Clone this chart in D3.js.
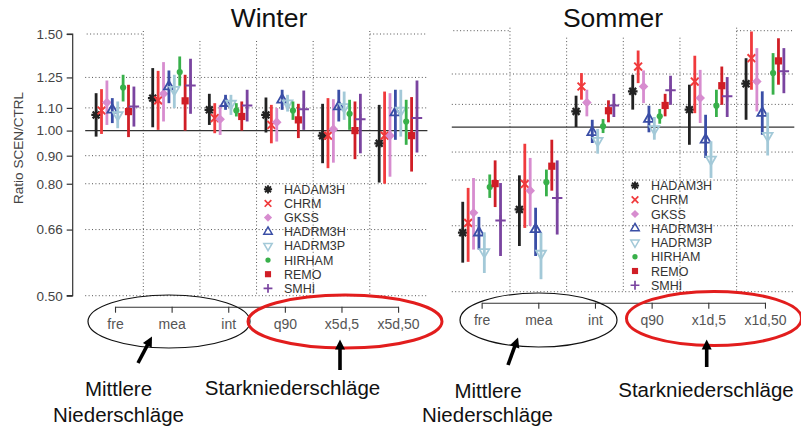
<!DOCTYPE html>
<html><head><meta charset="utf-8">
<script src="https://cdn.jsdelivr.net/npm/d3@7"></script>
<style>body{margin:0;background:#fff}svg{display:block;font-family:"Liberation Sans",Arial,Helvetica,sans-serif}</style>
</head><body><svg id="c" width="801" height="430"></svg>
<script>
// ---------- DATA ----------
const models = ["HADAM3H","CHRM","GKSS","HADRM3H","HADRM3P","HIRHAM","REMO","SMHI"];
const winterCats = ["fre","mea","int","q90","x5d,5","x5d,50"];
const summerCats = ["fre","mea","int","q90","x1d,5","x1d,50"];
const yTickValues = [0.5,0.66,0.8,0.9,1.0,1.1,1.25,1.5];
const yTickLabels = ["0.50","0.66","0.80","0.90","1.00","1.10","1.25","1.50"];

// rows = categories, columns = models (order as in `models`)
const winterMid = [
  [1.068,1.088,1.125,1.091,1.068,1.198,1.083,1.106],
  [1.146,1.135,1.167,1.203,1.187,1.279,1.133,1.208],
  [1.091,1.054,1.049,1.122,1.120,1.088,1.061,1.111],
  [1.068,1.024,1.036,1.138,1.122,1.088,1.046,1.094],
  [0.979,0.979,1.006,1.106,1.104,1.073,1.000,1.049],
  [0.948,0.979,0.979,1.079,1.088,1.039,0.979,1.054]];
const winterLo = [
  [0.975,0.986,1.024,1.032,1.010,1.130,0.973,1.017],
  [1.014,1.003,1.039,1.122,1.099,1.207,1.000,1.073],
  [1.024,0.989,0.982,1.091,1.068,1.061,1.000,1.039],
  [0.992,0.948,0.955,1.091,1.083,1.046,0.969,1.003],
  [0.872,0.854,0.874,1.039,1.046,1.003,0.887,0.909],
  [0.804,0.800,0.824,0.962,0.975,0.942,0.842,0.912]];
const winterHi = [
  [1.170,1.190,1.234,1.146,1.130,1.264,1.212,1.203],
  [1.300,1.285,1.333,1.287,1.264,1.365,1.264,1.352],
  [1.167,1.122,1.114,1.162,1.162,1.122,1.130,1.187],
  [1.149,1.114,1.099,1.187,1.162,1.130,1.119,1.183],
  [1.119,1.146,1.141,1.187,1.178,1.138,1.130,1.167],
  [1.114,1.178,1.170,1.187,1.187,1.138,1.151,1.234]];

const summerMid = [
  [0.641,0.668,0.697,0.641,0.591,0.777,0.788,0.675],
  [0.707,0.787,0.765,0.650,0.587,0.793,0.848,0.742],
  [1.068,1.186,1.109,0.978,0.944,1.003,1.071,1.095],
  [1.162,1.290,1.186,1.034,0.992,1.046,1.095,1.167],
  [1.076,1.211,1.130,0.948,0.872,1.094,1.190,1.138],
  [1.200,1.336,1.211,1.061,0.964,1.255,1.321,1.264]];
const summerLo = [
  [0.565,0.567,0.597,0.597,0.541,0.742,0.714,0.581],
  [0.606,0.654,0.659,0.581,0.527,0.747,0.765,0.636],
  [1.000,1.122,1.046,0.935,0.894,0.975,1.020,1.043],
  [1.076,1.203,1.106,0.978,0.948,1.014,1.046,1.098],
  [0.928,1.060,1.017,0.878,0.807,1.043,1.098,1.043],
  [1.031,1.170,1.068,0.968,0.887,1.146,1.195,1.153]];
const summerHi = [
  [0.730,0.774,0.807,0.685,0.642,0.819,0.869,0.790],
  [0.816,0.932,0.878,0.712,0.641,0.836,0.948,0.869],
  [1.141,1.255,1.170,1.031,0.992,1.034,1.119,1.150],
  [1.246,1.380,1.269,1.094,1.043,1.079,1.150,1.241],
  [1.195,1.350,1.272,1.053,0.942,1.170,1.290,1.234],
  [1.336,1.495,1.394,1.162,1.063,1.365,1.453,1.394]];

// ---------- STYLES ----------
const modelStyle = {
  HADAM3H:{color:"#222222", sym:"asterisk"},
  CHRM:   {color:"#f03a3c", sym:"cross"},
  GKSS:   {color:"#d78ccf", sym:"diamond"},
  HADRM3H:{color:"#3a4ea6", sym:"triUp"},
  HADRM3P:{color:"#a3c9d8", sym:"triDown"},
  HIRHAM: {color:"#38b04a", sym:"circle"},
  REMO:   {color:"#d01e26", sym:"square"},
  SMHI:   {color:"#7a44a0", sym:"plus"}
};

function drawSymbol(g, type, color, k) {
  k = k || 1;
  const s = g.append("path");
  if (type === "asterisk") {
    const r = 4.8*k, d = r*0.72;
    s.attr("d", `M${-r},0H${r}M0,${-r}V${r}M${-d},${-d}L${d},${d}M${-d},${d}L${d},${-d}`)
     .attr("stroke", color).attr("stroke-width", 2.2*k).attr("fill","none");
  } else if (type === "cross") {
    const d = 3.9*k;
    s.attr("d", `M${-d},${-d}L${d},${d}M${-d},${d}L${d},${-d}`)
     .attr("stroke", color).attr("stroke-width", 2*k).attr("fill","none");
  } else if (type === "plus") {
    const r = 5.2*k;
    s.attr("d", `M${-r},0H${r}M0,${-r}V${r}`)
     .attr("stroke", color).attr("stroke-width", 2*k).attr("fill","none");
  } else if (type === "diamond") {
    s.attr("d", d3.symbol(d3.symbolSquare, 46*k*k)()).attr("transform","rotate(45)")
     .attr("fill", color);
  } else if (type === "triUp") {
    s.attr("d", d3.symbol(d3.symbolTriangle, 42*k*k)())
     .attr("fill","none").attr("stroke", color).attr("stroke-width", 1.8*k);
  } else if (type === "triDown") {
    s.attr("d", d3.symbol(d3.symbolTriangle, 42*k*k)()).attr("transform","rotate(180)")
     .attr("fill","none").attr("stroke", color).attr("stroke-width", 1.8*k);
  } else if (type === "circle") {
    s.attr("d", d3.symbol(d3.symbolCircle, 30*k*k)()).attr("fill", color);
  } else if (type === "square") {
    s.attr("d", d3.symbol(d3.symbolSquare, 52*k*k)()).attr("fill", color);
  }
  return s;
}

const svg = d3.select("#c");
const gridColor = "#555";

const panels = [
  {title:"Winter", titleX:269, cats:winterCats, mid:winterMid, lo:winterLo, hi:winterHi,
   xRange:[86.7,426.4], yRange:[295.7,34], axis:true, legendX:268, legendY:189.3, legendStep:14.15},
  {title:"Sommer", titleX:613, cats:summerCats, mid:summerMid, lo:summerLo, hi:summerHi,
   xRange:[453.3,793.3], yRange:[291.7,30.7], axis:false, legendX:635, legendY:185.5, legendStep:14.25}
];

panels.forEach(p => {
  const y = d3.scaleLog().domain([0.5,1.5]).range(p.yRange);
  const xb = d3.scaleBand().domain(p.cats).range(p.xRange);
  const xm = d3.scaleBand().domain(models).range([-21.6, 21.6]);
  const g = svg.append("g");
  const x0 = p.xRange[0] - 1.5, x1 = p.xRange[1];
  const bw = xb.bandwidth();

  svg.append("text").attr("x", p.titleX).attr("y", 27).attr("text-anchor","middle")
    .attr("font-size", 26.5).attr("fill","#111").text(p.title);

  yTickValues.forEach(v => {
    if (v === 1.0) return;
    if (v === 1.5) {
      [p.cats[0], p.cats[p.cats.length-1]].forEach(c => {
        g.append("line").attr("x1", xb(c)).attr("x2", xb(c)+bw)
          .attr("y1", y(v)).attr("y2", y(v))
          .attr("stroke", gridColor).attr("stroke-width",1).attr("stroke-dasharray","1,2.4");
      });
      return;
    }
    g.append("line").attr("x1", x0).attr("x2", x1).attr("y1", y(v)).attr("y2", y(v))
      .attr("stroke", gridColor).attr("stroke-width",1).attr("stroke-dasharray","1,2.4");
  });
  p.cats.slice(1).forEach((c, i) => {
    const xx = xb(c);
    const top = (i === 0 || i === p.cats.length-2) ? y(1.5) - 3 : y(1.5) + 7;
    g.append("line").attr("x1", xx).attr("x2", xx).attr("y1", top).attr("y2", y(0.5))
      .attr("stroke", gridColor).attr("stroke-width",1).attr("stroke-dasharray","1,2.4");
  });
  g.append("line").attr("x1", x0).attr("x2", x1 + 1).attr("y1", y(1)).attr("y2", y(1))
    .attr("stroke", "#333").attr("stroke-width", 1.2);

  if (p.axis) {
    const axisX = 72.7;
    const ax = svg.append("g").attr("transform", `translate(${axisX},0)`)
      .call(d3.axisLeft(y).tickValues(yTickValues).tickFormat((d,i) => yTickLabels[i]).tickSize(6).tickPadding(4));
    ax.select(".domain").attr("stroke","#333").attr("stroke-width",1.2)
      .attr("d", `M-6,${y(0.5)}H0V${y(1.5)}H-6`);
    ax.selectAll(".tick line").attr("stroke","#333").attr("stroke-width",1.2);
    ax.selectAll(".tick text").attr("font-size", 13.5).attr("fill","#444")
      .attr("font-family",'"Liberation Sans",Arial,sans-serif');
    svg.append("text").attr("transform", `translate(23,148) rotate(-90)`)
      .attr("text-anchor","middle").attr("font-size", 13.5).attr("fill","#444")
      .text("Ratio SCEN/CTRL");
  }

  const xc = d3.scalePoint().domain(p.cats).range([xb(p.cats[0]) + bw/2, xb(p.cats[5]) + bw/2]);
  const xa = svg.append("g").attr("transform", `translate(0,${y(0.5)+11})`)
    .call(d3.axisBottom(xc).tickSize(6).tickPadding(6).tickSizeOuter(0));
  xa.select(".domain").attr("stroke","#333").attr("stroke-width",1.1);
  xa.selectAll(".tick line").attr("stroke","#333").attr("stroke-width",1.1);
  xa.selectAll(".tick text").attr("font-size", 14).attr("fill","#555")
    .attr("font-family",'"Liberation Sans",Arial,sans-serif');

  p.cats.forEach((c, ci) => {
    models.forEach((m, mi) => {
      const st = modelStyle[m];
      const cx = xb(c) + bw/2 + xm(m) + xm.bandwidth()/2;
      g.append("line").attr("x1", cx).attr("x2", cx)
        .attr("y1", y(p.lo[ci][mi])).attr("y2", y(p.hi[ci][mi]))
        .attr("stroke", st.color).attr("stroke-width", 2.8);
      const sg = g.append("g").attr("transform", `translate(${cx},${y(p.mid[ci][mi])})`);
      drawSymbol(sg, st.sym, st.color, 1);
    });
  });

  const lg = svg.append("g");
  models.forEach((m, i) => {
    const st = modelStyle[m];
    const yy = p.legendY + i * p.legendStep;
    const sg = lg.append("g").attr("transform", `translate(${p.legendX},${yy})`);
    drawSymbol(sg, st.sym, st.color, 0.85);
    lg.append("text").attr("x", p.legendX + 16).attr("y", yy + 4.5)
      .attr("font-size", 12.5).attr("fill","#333").text(m);
  });
});

// ---------- ANNOTATIONS ----------
const ann = svg.append("g");
const ellipses = [
  {cx:169, cy:321.5, rx:81, ry:26.5, color:"#111", w:1.2},
  {cx:345, cy:321.5, rx:97, ry:26.5, color:"#e21d1d", w:3},
  {cx:538.5, cy:320, rx:78.5, ry:27, color:"#111", w:1.2},
  {cx:714, cy:318.5, rx:87.5, ry:27, color:"#e21d1d", w:3}
];
ellipses.forEach(e => ann.append("ellipse").attr("cx",e.cx).attr("cy",e.cy).attr("rx",e.rx).attr("ry",e.ry)
  .attr("fill","none").attr("stroke",e.color).attr("stroke-width",e.w));

function arrow(xs, ys, xt, yt) {
  const dx = xt - xs, dy = yt - ys, L = Math.hypot(dx, dy);
  const ux = dx / L, uy = dy / L, hl = 10, hw = 5;
  const bx = xt - ux*hl, by = yt - uy*hl;
  ann.append("line").attr("x1", xs).attr("y1", ys).attr("x2", bx + ux).attr("y2", by + uy)
    .attr("stroke","#000").attr("stroke-width",3.6);
  ann.append("path").attr("d", `M${xt},${yt}L${bx - uy*hw},${by + ux*hw}L${bx + uy*hw},${by - ux*hw}Z`)
    .attr("fill","#000");
}
arrow(138, 363, 152, 336.5);
arrow(340, 370, 340, 339.5);
arrow(508, 365, 518, 337.5);
arrow(706.7, 367, 706.7, 339.5);

const labels = [
  {x:118.5, y:396, t:"Mittlere"},
  {x:118.5, y:421.5, t:"Niederschläge"},
  {x:292.5, y:395, t:"Starkniederschläge"},
  {x:488, y:398, t:"Mittlere"},
  {x:487.5, y:421.5, t:"Niederschläge"},
  {x:706, y:397, t:"Starkniederschläge"}
];
labels.forEach(l => ann.append("text").attr("x", l.x).attr("y", l.y).attr("text-anchor","middle")
  .attr("font-size", 20.5).attr("fill","#111").text(l.t));
</script>
</body></html>
